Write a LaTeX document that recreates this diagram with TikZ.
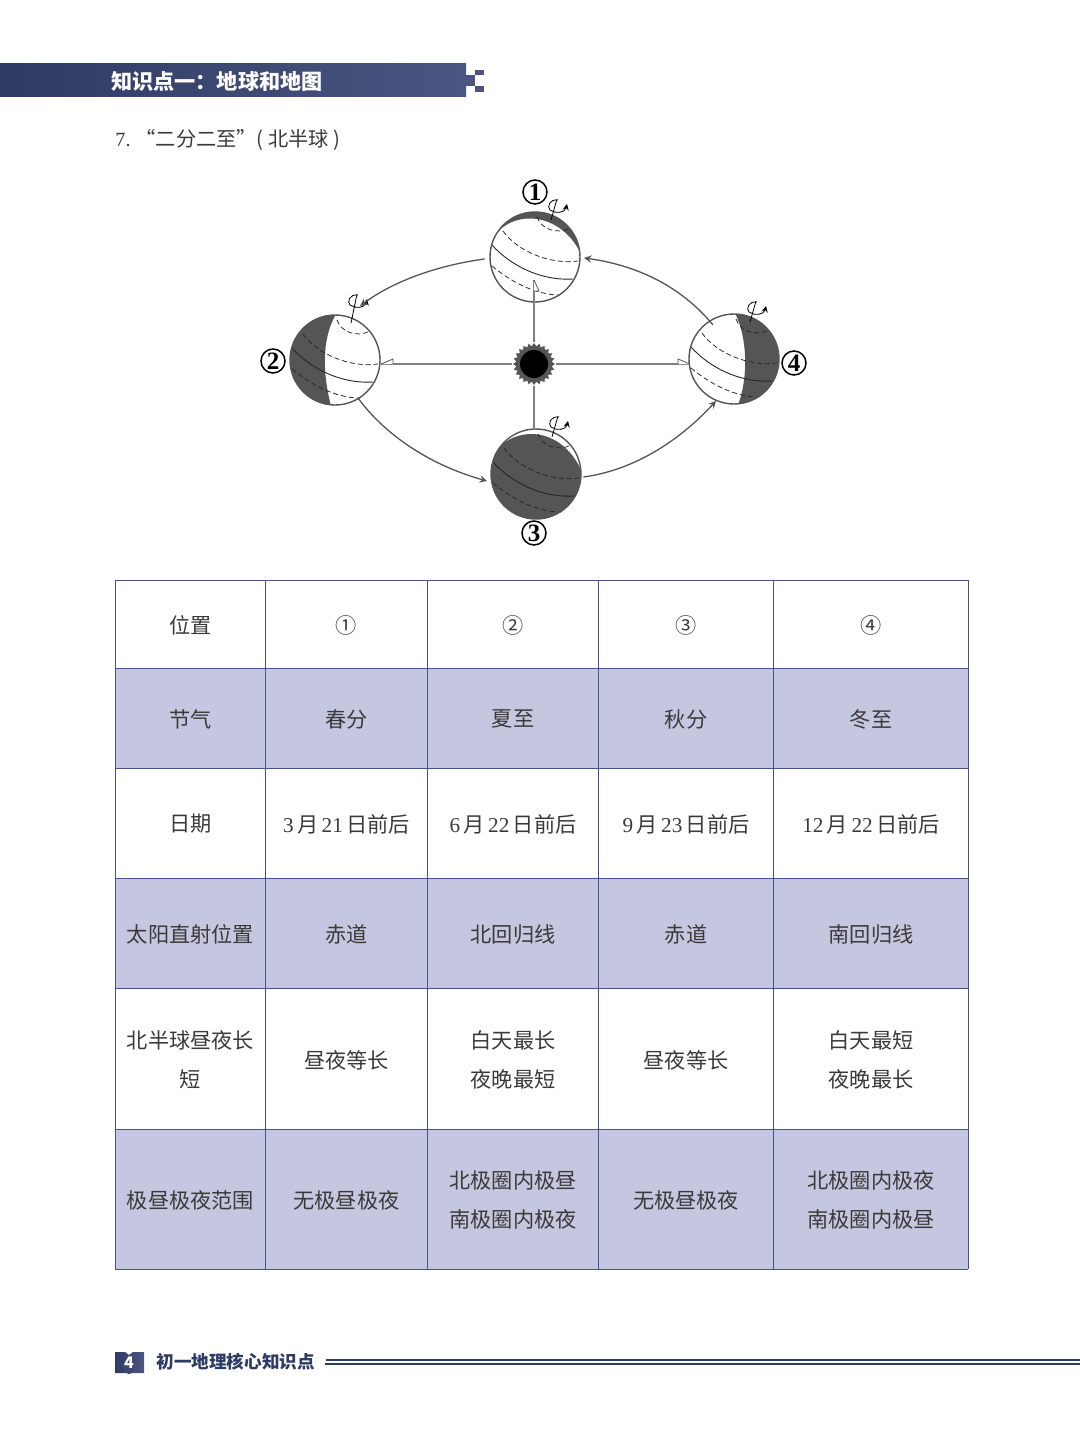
\documentclass[tikz,border=0pt]{standalone}
\usepackage{fontspec}
\setmainfont{Noto Sans CJK SC}
\newfontfamily\numfont{Liberation Serif}
\usetikzlibrary{shapes.geometric}

\definecolor{barnavy}{HTML}{2F3B64}
\definecolor{barlight}{HTML}{4A5581}
\definecolor{rowfill}{HTML}{C5C6E0}
\definecolor{gridnavy}{HTML}{46538F}
\definecolor{textgray}{HTML}{3A3A3A}
\definecolor{nightgray}{HTML}{555555}

\tikzset{
    celltext/.style={text=textgray, align=center, font=\fontsize{10.6}{19.5}\selectfont},
    gridline/.style={draw=gridnavy, line width=0.45pt},
    earth/.style={circle, minimum size=45pt, inner sep=0pt},
    orbit/.style={draw=nightgray, line width=0.65pt, -stealth},
    ray/.style={draw=gray, line width=0.9pt},
    flag/.style={draw=nightgray, line width=0.4pt, fill=white},
    latitude/.style={draw=black!85, line width=0.38pt, dash pattern=on 2.5pt off 1.5pt},
    marknum/.style={circle, draw=black, line width=0.75pt, minimum size=12pt, inner sep=0pt, font=\numfont\bfseries\fontsize{12.5}{13}\selectfont}
}

% date text
\newcommand{\datetext}[2]{{\numfont #1}\hspace{1.7pt}月\hspace{1.7pt}{\numfont #2}\hspace{1.7pt}日前后}

% name, centre, night side, axis offset
\newcommand{\drawearth}[5]{
    \node[earth, fill=white] (#1) at (#2,#3) {};
    \begin{scope}[shift={(#2,#3)}]
        \begin{scope}
            \clip (0,0) circle (45);
            \fill[nightgray] #4;
        \end{scope}
        % Tropics and polar circle
        \draw[latitude] (2,-40) .. controls (6,-28) and (22,-22) .. (35,-29);
        \draw[latitude] (-32,-26) .. controls (-18,-6) and (15,8) .. (43,4);
        \draw[latitude] (-43,9) .. controls (-25,24) and (0,38) .. (25,38);
        % Equator
        \draw[draw=black!85, line width=0.45pt] (-43,-12) .. controls (-25,8) and (5,24) .. (38,22);
        \draw[nightgray, line width=0.7pt] (0,0) circle (45);
        % Axis
        \draw[line width=0.4pt] (16,-37) -- (22,-58+#5);
        \draw[line width=0.4pt, -stealth] (23,-57+#5) .. controls (14,-58+#5) and (12,-50+#5) .. (15,-47+#5) .. controls (20,-43+#5) and (30,-44+#5) .. (32,-53+#5);
    \end{scope}
}

\begin{document}
\begin{tikzpicture}[x=0.5pt, y=-0.5pt]
    \useasboundingbox (0,0) rectangle (1080,1455);

    % Header bar
    \shade[left color=barnavy, right color=barlight] (0,64) rectangle (466,97);
    \fill[barlight] (466,75.5) rectangle (475,86);
    \fill[barlight] (475,70) rectangle (484,75);
    \fill[barlight] (475,86) rectangle (484,92);
    \node[text=white, anchor=west, inner sep=0pt, font=\bfseries\fontsize{10.55}{12}\selectfont] (headtitle) at (111,81) {知识点一：地球和地图};

    % Section title
    \node[text=textgray, anchor=west, inner sep=0pt, font=\fontsize{10.1}{12}\selectfont] (sectitle) at (115,140) {{\numfont 7.\ }“二分二至”( 北半球 )};

    % Sun
    \node[star, star points=24, star point ratio=1.18, minimum size=21pt, inner sep=0pt, fill=nightgray] (sun) at (534,364) {};
    \node[circle, minimum size=14pt, inner sep=0pt, fill=black] (suncore) at (sun) {};

    % Earth positions
    \drawearth{earthone}{535}{257}{(-40,-22) .. controls (-20,-48) and (25,-44) .. (45,-5) -- (50,-50) -- (-50,-50) -- cycle}{0}
    \drawearth{earthtwo}{335}{360}{(1,-46) .. controls (-14,-20) and (-12,15) .. (-4,46) -- (-50,46) -- (-50,-46) -- cycle}{-8}
    \drawearth{earththree}{536}{474}{(-46,-16) .. controls (-25,-50) and (25,-50) .. (46,-2) -- (50,50) -- (-50,50) -- cycle}{0}
    \drawearth{earthfour}{734}{359}{(1,-46) .. controls (14,-20) and (14,20) .. (4,46) -- (50,46) -- (50,-46) -- cycle}{0}

    % Sun rays
    \coordinate (rayone) at (534,280);
    \coordinate (raytwo) at (381,364);
    \coordinate (raythree) at (534,430);
    \coordinate (rayfour) at (690,364);
    \draw[ray] (sun) -- (rayone);
    \draw[ray] (sun) -- (raytwo);
    \draw[ray] (sun) -- (raythree);
    \draw[ray] (sun) -- (rayfour);
    \draw[flag] (rayone) -- ++(5,11) -- ++(-5,0);
    \draw[flag] (raytwo) -- ++(12,-5) -- ++(0,5);
    \draw[flag] (rayfour) -- ++(-12,-5) -- ++(0,5);

    % Orbit
    \draw[orbit] (earthone.west |- 0,259) ++(-5,0) .. controls (440,265) and (395,280) .. (360,306);
    \draw[orbit] (earthtwo.south east) ++(-9,6) .. controls (385,435) and (430,465) .. (487,481);
    \draw[orbit] (earththree.east) ++(2,3) .. controls (635,470) and (680,440) .. (716,401);
    \draw[orbit] (earthfour.north west) ++(11,-2) .. controls (680,285) and (635,265) .. (584,258);

    % Position labels
    \node[marknum] (labelone) at (535,192) {1};
    \node[marknum] (labeltwo) at (273,361) {2};
    \node[marknum] (labelthree) at (534,533) {3};
    \node[marknum] (labelfour) at (794,363) {4};

    % Table
    \fill[rowfill] (115,668) rectangle (968,768);
    \fill[rowfill] (115,878) rectangle (968,988);
    \fill[rowfill] (115,1129) rectangle (968,1269);
    \foreach \y in {580,668,768,878,988,1129,1269}
        \draw[gridline] (115,\y) -- (968,\y);
    \foreach \x in {115,265,427,598,773,968}
        \draw[gridline] (\x,580) -- (\x,1269);

    \foreach \col/\x/\txt in {a/190.5/位置,b/346.5/①,c/513/②,d/686/③,e/871/④}
        \node[celltext] (pos\col) at (\x,625) {\txt};
    \foreach \col/\x/\txt in {a/190.5/节气,b/346.5/春分,c/513/夏至,d/686/秋分,e/871/冬至}
        \node[celltext] (term\col) at (\x,719) {\txt};
    \foreach \col/\x/\txt in {a/190.5/日期,b/346.5/{\datetext{3}{21}},c/513/{\datetext{6}{22}},d/686/{\datetext{9}{23}},e/871/{\datetext{12}{22}}}
        \node[celltext] (date\col) at (\x,824) {\txt};
    \foreach \col/\x/\txt in {a/190.5/太阳直射位置,b/346.5/赤道,c/513/北回归线,d/686/赤道,e/871/南回归线}
        \node[celltext] (sunpos\col) at (\x,934) {\txt};
    \foreach \col/\x/\txt in {a/190.5/{北半球昼夜长\\短},b/346.5/昼夜等长,c/513/{白天最长\\夜晚最短},d/686/昼夜等长,e/871/{白天最短\\夜晚最长}}
        \node[celltext] (day\col) at (\x,1060) {\txt};
    \foreach \col/\x/\txt in {a/190.5/极昼极夜范围,b/346.5/无极昼极夜,c/513/{北极圈内极昼\\南极圈内极夜},d/686/无极昼极夜,e/871/{北极圈内极夜\\南极圈内极昼}}
        \node[celltext] (polar\col) at (\x,1200) {\txt};

    % Footer
    \shade[left color=barnavy, right color=barlight] (115,1352) -- (125,1352) -- (129,1355) -- (133,1352) -- (144,1352) -- (144,1373) -- (132,1373) -- (129,1374) -- (126,1373) -- (115,1373) -- cycle;
    \node[text=white, inner sep=0pt, font=\bfseries\fontsize{8}{9}\selectfont] (pagenum) at (129,1363) {4};
    \node[text=barnavy, anchor=west, inner sep=0pt, font=\bfseries\fontsize{8.8}{10}\selectfont] (foottitle) at (156,1362) {初一地理核心知识点};
    \coordinate (footend) at (1080,1360);
    \draw[barnavy, line width=0.8pt] (foottitle.east |- footend) ++(11,0) -- (footend);
    \draw[barnavy, line width=0.8pt] (325,1364) -- (1080,1364);
\end{tikzpicture}
\end{document}
